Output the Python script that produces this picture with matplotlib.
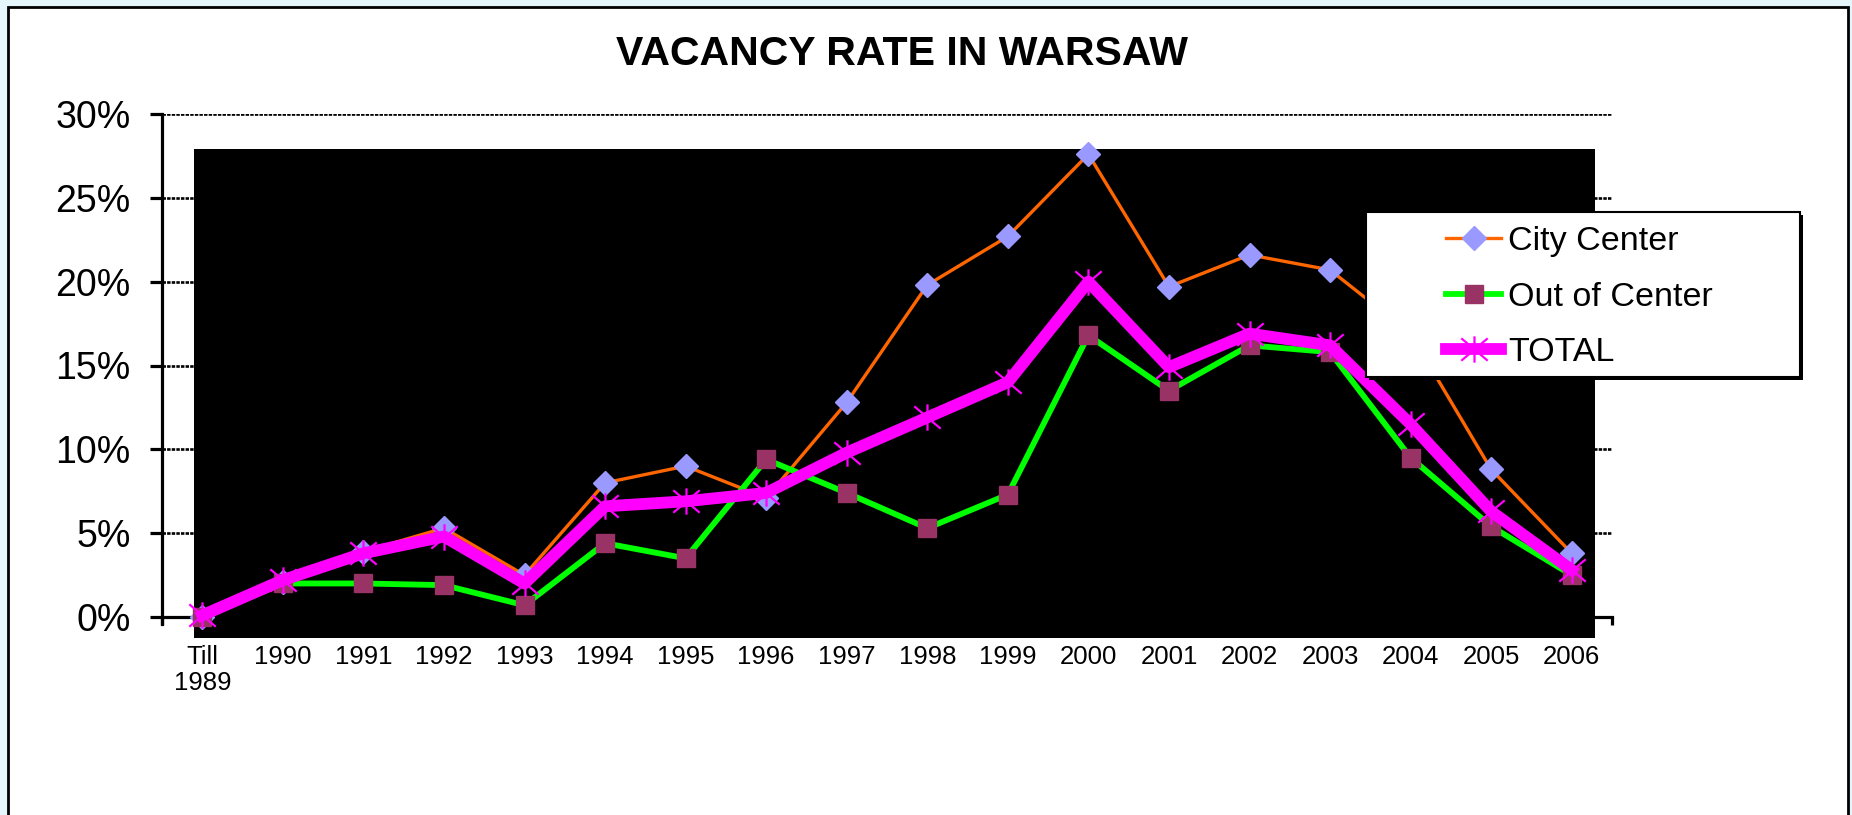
import matplotlib
matplotlib.use("Agg")
import matplotlib.pyplot as plt
from matplotlib.patches import Rectangle
from matplotlib.path import Path
from matplotlib.ticker import PercentFormatter, FixedLocator
import numpy as np

plt.rcParams['font.family'] = ['Liberation Sans', 'DejaVu Sans']

# data (vacancy rate, fraction)
years = ['Till\n1989', '1990', '1991', '1992', '1993', '1994', '1995', '1996', '1997',
         '1998', '1999', '2000', '2001', '2002', '2003', '2004', '2005', '2006']
city_center = [0.000, 0.021, 0.039, 0.053, 0.025, 0.080, 0.090, 0.071, 0.128,
               0.198, 0.227, 0.276, 0.197, 0.216, 0.207, 0.169, 0.088, 0.038]
out_of_center = [0.000, 0.020, 0.020, 0.019, 0.007, 0.044, 0.035, 0.094, 0.074,
                 0.053, 0.073, 0.168, 0.135, 0.162, 0.158, 0.095, 0.054, 0.025]
total = [0.001, 0.022, 0.038, 0.048, 0.020, 0.066, 0.069, 0.074, 0.098,
         0.119, 0.140, 0.200, 0.149, 0.169, 0.162, 0.115, 0.063, 0.028]

W, H = 1852, 815


# pixel box -> figure fraction box
def fbox(x0, y0, x1, y1):
    return (x0 / W, 1 - y1 / H), (x1 - x0) / W, (y1 - y0) / H


fig = plt.figure(figsize=(W / 100, H / 100), dpi=100)
fig.patch.set_facecolor('#E4F5FC')

# white chart area with black border
xy, w, h = fbox(8, 7, 1848, 830)
fig.patches.append(Rectangle(xy, w, h, transform=fig.transFigure, facecolor='white',
                             edgecolor='black', linewidth=2, zorder=-1))

ax = fig.add_axes([162 / W, 1 - 617 / H, 1450 / W, (617 - 114) / H])
ax.patch.set_visible(False)
x = np.arange(len(years))
ax.set_xlim(-0.5, len(years) - 0.5)
ax.set_ylim(0, 0.30)

# spines
for s in ['top', 'right']:
    ax.spines[s].set_visible(False)
ax.spines['left'].set_linewidth(2.3)
ax.spines['bottom'].set_linewidth(2.3)
ax.spines['left'].set_bounds(-0.004, 0.30)

# gridlines
ax.set_axisbelow(True)
ax.yaxis.grid(True, color='black', linewidth=1.9, linestyle=(0, (1.3, 0.45)))
ax.set_yticks(np.arange(0, 0.301, 0.05))
ax.yaxis.set_major_formatter(PercentFormatter(1.0, decimals=0))
ax.tick_params(axis='y', length=8.6, width=2.3, pad=14, labelsize=27)

ax.set_xticks(x)
ax.set_xticklabels(years, fontsize=18.5, linespacing=1.1)
ax.xaxis.set_minor_locator(FixedLocator(np.arange(-0.5, len(years), 1.0)))
ax.tick_params(axis='x', which='major', length=0, pad=20)
ax.tick_params(axis='x', which='minor', length=6, width=2.3)

# black block covering the plot area
xy, w, h = fbox(194, 149, 1595, 638)
ax.add_patch(Rectangle(xy, w, h, transform=fig.transFigure, facecolor='black',
                       edgecolor='none', clip_on=False, zorder=2.7))

# asterisk marker: vertical bar plus an X
star = Path([(0, -1), (0, 1), (-1, -0.85), (1, 0.85), (-1, 0.85), (1, -0.85)],
            [Path.MOVETO, Path.LINETO] * 3)

ax.plot(x, city_center, color='#FF6600', linewidth=2.4, marker='D', markersize=12,
        markerfacecolor='#9999FF', markeredgecolor='#9999FF', label='City Center',
        clip_on=False, zorder=3)
ax.plot(x, out_of_center, color='#00FF00', linewidth=4.2, marker='s', markersize=13,
        markerfacecolor='#993366', markeredgecolor='#993366', label='Out of Center',
        clip_on=False, zorder=4)
ax.plot(x, total, color='#FF00FF', linewidth=8.5, marker=star, markersize=19,
        markeredgewidth=1.6, markeredgecolor='#FF00FF', label='TOTAL',
        clip_on=False, zorder=5)

# legend box
xy, w, h = fbox(1369, 215, 1803, 380)
ax.add_patch(Rectangle(xy, w, h, transform=fig.transFigure, facecolor='black',
                       edgecolor='none', clip_on=False, zorder=9))
xy, w, h = fbox(1366, 212, 1800, 377)
ax.add_patch(Rectangle(xy, w, h, transform=fig.transFigure, facecolor='white',
                       edgecolor='black', linewidth=1.5, clip_on=False, zorder=10))
leg = ax.legend(loc='center left', bbox_to_anchor=(1446 / W, 1 - 297 / H),
                bbox_transform=fig.transFigure, frameon=False, fontsize=24.5,
                borderpad=0, borderaxespad=0, handlelength=1.62, handletextpad=0.2,
                labelspacing=0.72, numpoints=1)
leg.set_zorder(11)

fig.text(902 / W, 1 - 54 / H, 'VACANCY RATE IN WARSAW', ha='center', va='center',
         fontsize=29.5, fontweight='bold')

fig.savefig('out.png', dpi=100)
